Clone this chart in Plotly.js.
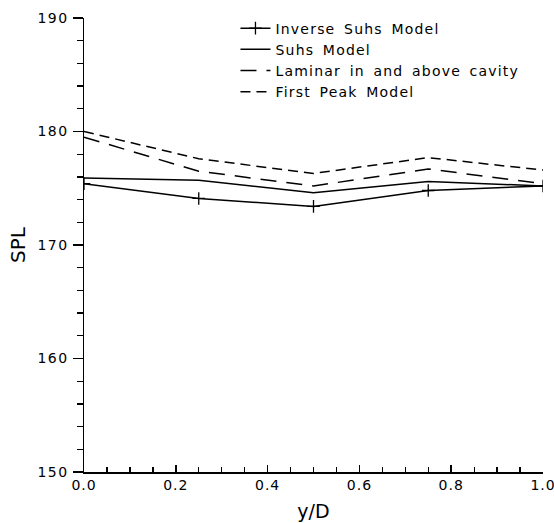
<!DOCTYPE html>
<html>
<head>
<meta charset="utf-8">
<script src="https://cdn.plot.ly/plotly-3.0.1.min.js"></script>
<style>
html,body{margin:0;padding:0;background:#fff}
#chart{width:554px;height:523px}
.legendtext{letter-spacing:1.2px;word-spacing:3px}
.xtick text{letter-spacing:1px}
.ytick text{letter-spacing:1.5px}
</style>
</head>
<body>
<div id="chart"></div>
<script>
const xVals = [0.0, 0.25, 0.5, 0.75, 1.0];
const inverseSuhs = [175.4, 174.1, 173.4, 174.8, 175.2];
const suhs = [175.9, 175.7, 174.6, 175.6, 175.2];
const laminar = [179.5, 176.5, 175.2, 176.7, 175.4];
const firstPeak = [180.0, 177.6, 176.3, 177.7, 176.6];
const seriesNames = ["Inverse Suhs Model", "Suhs Model", "Laminar in and above cavity", "First Peak Model"];

const FONT = "DejaVu Sans, sans-serif";
const traces = [
  {x: xVals, y: inverseSuhs, name: seriesNames[0], mode: "lines+markers",
   line: {color: "#000", width: 1.5},
   marker: {symbol: "cross-thin", size: 9, color: "#000", line: {color: "#000", width: 1.3}}},
  {x: xVals, y: suhs, name: seriesNames[1], mode: "lines",
   line: {color: "#000", width: 1.5}},
  {x: xVals, y: laminar, name: seriesNames[2], mode: "lines",
   line: {color: "#000", width: 1.5, dash: "16px,10px"}},
  {x: xVals, y: firstPeak, name: seriesNames[3], mode: "lines",
   line: {color: "#000", width: 1.5, dash: "10px,6px"}},
  // invisible carriers so the tick-only overlay axes are drawn
  {x: xVals, y: suhs, xaxis: "x2", yaxis: "y2", mode: "lines", showlegend: false,
   hoverinfo: "skip", line: {color: "rgba(0,0,0,0)", width: 0}},
  {x: xVals, y: suhs, xaxis: "x3", yaxis: "y2", mode: "lines", showlegend: false,
   hoverinfo: "skip", line: {color: "rgba(0,0,0,0)", width: 0}}
];

const tickOnly = {showticklabels: false, showgrid: false, zeroline: false, showline: false, fixedrange: true};

const layout = {
  width: 554, height: 523,
  margin: {l: 84, r: 11, t: 18, b: 51},
  font: {family: FONT, size: 14, color: "#000"},
  showlegend: true,
  legend: {x: 0.33, y: 1.012, xanchor: "left", yanchor: "top",
           bgcolor: "rgba(0,0,0,0)", font: {family: FONT, size: 14, color: "#000"},
           tracegroupgap: 0},
  xaxis: {range: [0, 1], dtick: 0.2, tick0: 0, tickformat: ".1f",
          ticklabeloverflow: "allow",
          showgrid: false, zeroline: false, showline: true, linecolor: "#000", linewidth: 1.5,
          ticks: "inside", ticklen: 7, tickwidth: 1.5, tickcolor: "#000",
          tickfont: {family: FONT, size: 14},
          title: {text: "y/D", font: {family: FONT, size: 19}, standoff: 12}},
  yaxis: {range: [150, 190], dtick: 10, tick0: 150,
          ticklabeloverflow: "allow",
          showgrid: false, zeroline: false, showline: true, linecolor: "#000", linewidth: 1.5,
          ticks: "outside", ticklen: 10, tickwidth: 1.5, tickcolor: "#000",
          ticklabelstandoff: 1,
          tickfont: {family: FONT, size: 14},
          title: {text: "SPL", font: {family: FONT, size: 20}, standoff: 6}},
  xaxis2: Object.assign({overlaying: "x", anchor: "y2", side: "bottom", range: [0, 1],
           dtick: 0.05, tick0: 0, ticks: "inside", ticklen: 5, tickwidth: 1.3, tickcolor: "#000"}, tickOnly),
  xaxis3: Object.assign({overlaying: "x", anchor: "y2", side: "bottom", range: [0, 1],
           dtick: 0.2, tick0: 0, ticks: "inside", ticklen: 7, tickwidth: 1.5, tickcolor: "#000"}, tickOnly),
  yaxis2: Object.assign({overlaying: "y", anchor: "x", side: "left", range: [150, 190],
           dtick: 2, tick0: 150, ticks: "outside", ticklen: 6, tickwidth: 1.3, tickcolor: "#000"}, tickOnly)
};

Plotly.newPlot("chart", traces, layout, {displayModeBar: false, staticPlot: true});
</script>
</body>
</html>
